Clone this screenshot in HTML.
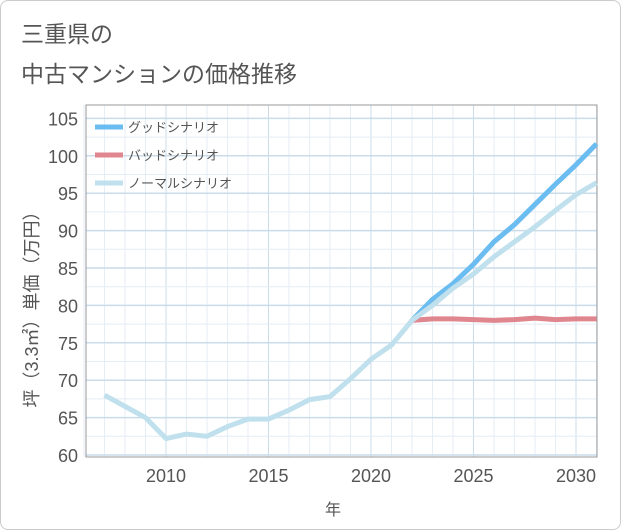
<!DOCTYPE html>
<html><head><meta charset="utf-8"><style>
body{margin:0;background:#fff;font-family:"Liberation Sans","Noto Sans CJK JP",sans-serif;}
#wrap{position:relative;width:619px;height:528px;border:1px solid #ccc;border-radius:8px;overflow:hidden;}
.t{position:absolute;left:20px;font-size:23px;color:#555;}
</style></head><body>
<div id="wrap">
<div class="t" style="top:14px">三重県の</div>
<div class="t" style="top:54px">中古マンションの価格推移</div>
<svg id="c" width="621" height="530" style="position:absolute;left:-1px;top:-1px"></svg>
</div>
<script>
const years=[2007,2008,2009,2010,2011,2012,2013,2014,2015,2016,2017,2018,2019,2020,2021,2022,2023,2024,2025,2026,2027,2028,2029,2030,2031];
const normal=[68,66.5,65,62.2,62.8,62.5,63.8,64.8,64.8,66,67.4,67.8,70.2,72.8,74.7,78,80,82.3,84.2,86.5,88.5,90.5,92.7,94.8,96.4];
const fYears=[2022,2023,2024,2025,2026,2027,2028,2029,2030,2031];
const good=[78,80.8,82.9,85.5,88.5,90.8,93.5,96.2,98.8,101.6];
const bad=[78,78.2,78.2,78.1,78,78.1,78.3,78.1,78.2,78.2];
const yTicks=[60,65,70,75,80,85,90,95,100,105];
const xTicks=[2010,2015,2020,2025,2030];
const L=86,R=597,T=105,B=457;
const x=v=>166+(v-2010)*20.5;
const y=v=>455-(v-60)*7.48;
const s=document.getElementById('c');const NS='http://www.w3.org/2000/svg';
function mk(t,a,txt){const e=document.createElementNS(NS,t);for(const k in a)e.setAttribute(k,a[k]);if(txt!=null)e.textContent=txt;s.appendChild(e);return e;}
for(let v=2006;v<=2031;v++){const g=mk('line',{x1:x(v),x2:x(v),y1:T,y2:B,stroke:xTicks.includes(v)?'#c9dcea':'#e4eef5','stroke-width':1});

}
for(let v=60;v<=106;v+=2.5){const g=mk('line',{x1:L,x2:R,y1:y(v),y2:y(v),stroke:v%5===0?'#c9dcea':'#e4eef5','stroke-width':v%5===0?1.5:1});

}
const fr=mk('rect',{x:L,y:T,width:R-L,height:B-T,fill:'none',stroke:'#999','stroke-width':1});


yTicks.forEach(v=>{const t=mk('text',{x:78,y:y(v)+7,'text-anchor':'end','font-size':18,fill:'#555'},v);

});
xTicks.forEach(v=>{const t=mk('text',{x:x(v),y:482,'text-anchor':'middle','font-size':18,fill:'#555'},v);

});
const xt=mk('text',{x:333,y:515,'text-anchor':'middle','font-size':16,fill:'#555'},'年');


const yt=mk('text',{x:0,y:0,'text-anchor':'middle','font-size':18,fill:'#555',transform:'translate(38,305) rotate(-90)'},'坪（3.3㎡）単価（万円）');


function line(xs,vs,col,name){const p=mk('polyline',{points:xs.map((a,i)=>x(a)+','+y(vs[i])).join(' '),fill:'none',stroke:col,'stroke-width':5,'stroke-linejoin':'round'});

}
line(fYears,bad,'#e0868e','bad-scenario-line');
line(fYears,good,'#6bbcf0','good-scenario-line');
line(years,normal,'#bfe0ec','normal-scenario-line');
const leg=[['グッドシナリオ','#6bbcf0'],['バッドシナリオ','#e0868e'],['ノーマルシナリオ','#bfe0ec']];
leg.forEach((d,i)=>{const yy=127+i*28;
const l=mk('line',{x1:95,x2:123,y1:yy,y2:yy,stroke:d[1],'stroke-width':5});


const t=mk('text',{x:128,y:yy+5,'font-size':13,fill:'#555'},d[0]);

});
</script>
</body></html>
